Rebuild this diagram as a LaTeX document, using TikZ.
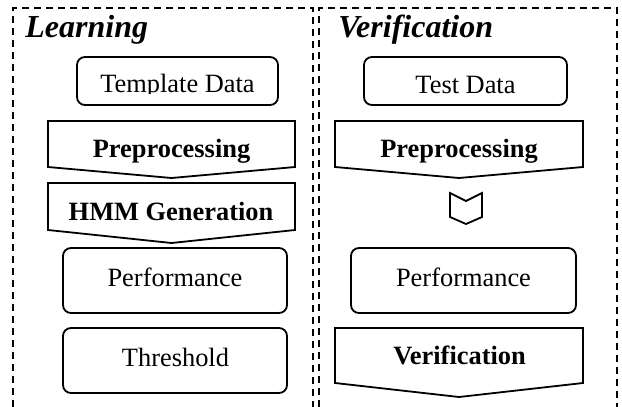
\documentclass[tikz,border=0pt]{standalone}
\usepackage{fontspec}
\setmainfont{Liberation Serif}
\begin{document}
\begin{tikzpicture}[x=0.5pt,y=-0.5pt,
  frame/.style={line width=.6pt,dash pattern=on 3.5pt off 2.5pt},
  blockline/.style={line width=.9pt,line join=miter},
  roundbox/.style={blockline,rounded corners=4pt},
  title/.style={font=\fontsize{16}{19}\selectfont\bfseries\itshape,anchor=base west,inner sep=0pt},
  txt/.style={font=\fontsize{13.2}{15}\selectfont,anchor=base,inner sep=0pt},
  txtbold/.style={txt,font=\fontsize{13.2}{15}\selectfont\bfseries}]
  \useasboundingbox (0,0) rectangle (622,407);
  % Rahmen
  \draw[frame] (13,407) -- (13,8) -- (313,8) -- (313,407);
  \draw[frame] (319,407) -- (319,8) -- (617,8) -- (617,407);
  \node[title] (learn) at (25,38) {Learning};
  \node[title] (verif) at (338,38) {Verification};
  % linke Spalte
  \draw[roundbox] (77,57) rectangle (278,105);
  \begin{scope}
    \clip (78,58) rectangle (277,93);
    \node[txt] (tmpl) at (177.5,92) {Template Data};
  \end{scope}
  \draw[blockline] (48,121) -- (295,121) -- (295,167) -- (171.5,178) -- (48,167) -- cycle;
  \node[txtbold] (prepL) at (171.5,157) {Preprocessing};
  \draw[blockline] (48,183) -- (295,183) -- (295,230) -- (171.5,243) -- (48,230) -- cycle;
  \node[txtbold] (hmm) at (171,220) {HMM Generation};
  \draw[roundbox] (63,248) rectangle (287,313);
  \node[txt] (perfL) at (175,286) {Performance};
  \draw[roundbox] (63,328) rectangle (287,393);
  \node[txt] (thresh) at (175.5,366) {Threshold};
  % rechte Spalte
  \draw[roundbox] (364,57) rectangle (567,105);
  \node[txt] (test) at (465.5,93) {Test Data};
  \draw[blockline] (335,121) -- (583,121) -- (583,167) -- (459,178) -- (335,167) -- cycle;
  \node[txtbold] (prepR) at (459,157) {Preprocessing};
  \draw[blockline] (450,193) -- (466,201) -- (482,193) -- (482,217) -- (466,224) -- (450,217) -- cycle;
  \draw[roundbox] (351,248) rectangle (576,313);
  \node[txt] (perfR) at (463.5,286) {Performance};
  \draw[blockline] (335,328) -- (583,328) -- (583,383) -- (459,397) -- (335,383) -- cycle;
  \node[txtbold] (verbox) at (459.5,364) {Verification};
\end{tikzpicture}
\end{document}
